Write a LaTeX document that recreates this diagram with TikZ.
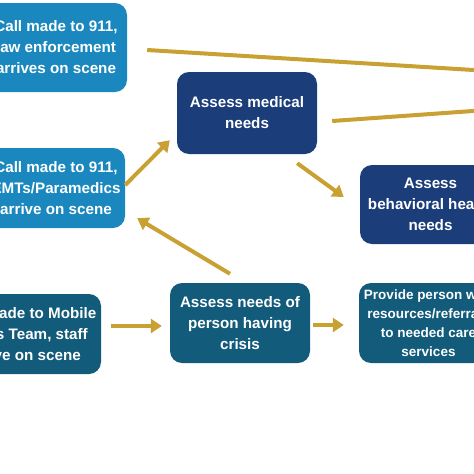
\documentclass[tikz,border=0pt]{standalone}
\usepackage{fontspec}
\setmainfont{Liberation Sans}
\usetikzlibrary{arrows.meta}
\definecolor{lblue}{RGB}{26,136,190}
\definecolor{navy}{RGB}{27,62,122}
\definecolor{teal2}{RGB}{18,91,123}
\definecolor{gold}{RGB}{201,160,50}
\tikzset{
  box/.style={rounded corners=12pt, inner sep=0pt, align=center, text=white,
    font=\fontsize{15.2}{21}\selectfont\bfseries},
  conn/.style={draw=gold, line width=4pt},
  arr/.style={conn, -{Triangle[length=11pt,width=14pt]}}
}
\begin{document}
\begin{tikzpicture}[x=1pt,y=-1pt]
\useasboundingbox (0,0) rectangle (474,474);
\clip (0,0) rectangle (474,474);
\fill[white] (0,0) rectangle (474,474);
\node[box, fill=lblue, minimum width=142pt, minimum height=89pt] (A) at (56,47.5)
  {Call made to 911,\\law enforcement\\arrives on scene};
\node[box, fill=lblue, minimum width=138pt, minimum height=80pt] (B) at (56,188)
  {Call made to 911,\\EMTs/Paramedics\\arrive on scene};
\node[box, fill=navy, minimum width=140pt, minimum height=82pt] (C) at (247,113)
  {Assess medical\\needs};
\node[box, fill=navy, minimum width=141pt, minimum height=79pt] (D) at (430.5,204.5)
  {Assess\\behavioral health\\needs};
\node[box, fill=teal2, minimum width=152pt, minimum height=80pt] (E) at (25,334)
  {Call made to Mobile\\Crisis Team, staff\\arrive on scene};
\node[box, fill=teal2, minimum width=140pt, minimum height=80pt] (F) at (240,323)
  {Assess needs of\\person having\\crisis};
\node[box, fill=teal2, minimum width=139pt, minimum height=80pt,
  font=\fontsize{13.5}{19}\selectfont\bfseries] (G) at (428.5,323)
  {Provide person with\\resources/referrals\\to needed care\\services};
\coordinate (offA) at (480,70.4);
\coordinate (offC) at (480,110.5);
\draw[conn] ([shift={(20,2.5)}]A.east) -- (offA);
\draw[conn] ([shift={(15,8)}]C.east) -- (offC);
\draw[arr] ([shift={(0,-3)}]B.east) -- ([shift={(-7,-14)}]C.south west);
\draw[arr] ([shift={(-10,-9)}]F.north) -- ([shift={(12,-10)}]B.south east);
\draw[arr] ([shift={(-20,9)}]C.south east) -- ([shift={(-16,-7.5)}]D.west);
\draw[arr] ([shift={(10,-8)}]E.east) -- ([shift={(-8,3)}]F.west);
\draw[arr] ([shift={(3,2)}]F.east) -- ([shift={(-15,2)}]G.west);
\end{tikzpicture}
\end{document}
